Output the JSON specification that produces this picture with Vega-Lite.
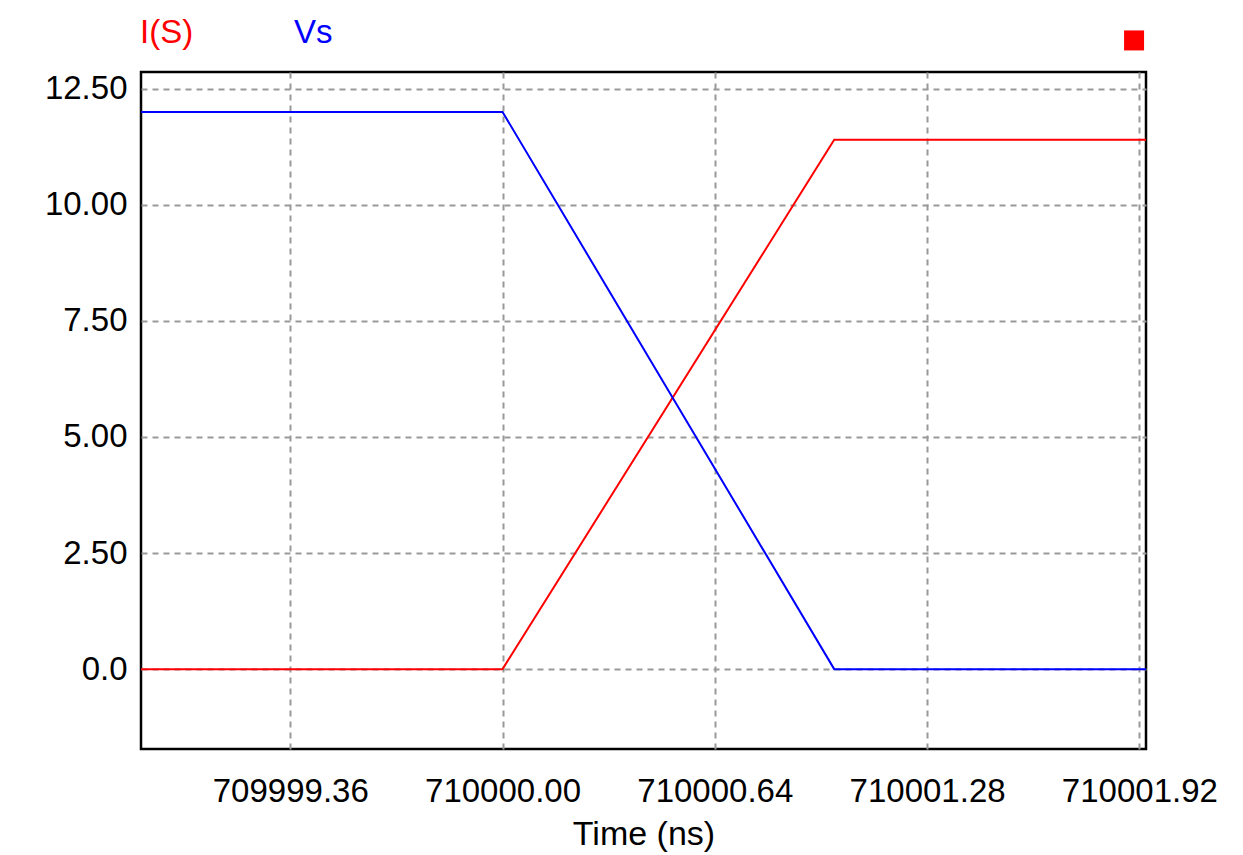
{
  "$schema": "https://vega.github.io/schema/vega-lite/v6.json",
  "width": 1005,
  "height": 677,
  "autosize": "none",
  "padding": {"left": 141, "top": 72, "right": 97, "bottom": 106},
  "background": "#ffffff",
  "config": {
    "view": {"stroke": "#000000", "strokeWidth": 2.5},
    "font": "Liberation Sans",
    "axis": {
      "domain": false,
      "ticks": false,
      "grid": true,
      "gridColor": "#999999",
      "gridWidth": 2,
      "gridDash": [6, 5],
      "gridOpacity": 1,
      "labelColor": "#000000",
      "labelFontSize": 33,
      "labelFont": "Liberation Sans",
      "titleColor": "#000000",
      "titleFont": "Liberation Sans",
      "titleFontWeight": "normal",
      "titleFontSize": 34
    }
  },
  "layer": [
    {
      "data": {
        "values": [
          {"time": 709998.91, "value": 0, "series": "I(S)"},
          {"time": 710000.0, "value": 0, "series": "I(S)"},
          {"time": 710001.0, "value": 11.4, "series": "I(S)"},
          {"time": 710001.94, "value": 11.4, "series": "I(S)"},
          {"time": 709998.91, "value": 12, "series": "Vs"},
          {"time": 710000.0, "value": 12, "series": "Vs"},
          {"time": 710001.0, "value": 0, "series": "Vs"},
          {"time": 710001.94, "value": 0, "series": "Vs"}
        ]
      },
      "mark": {"type": "line", "strokeWidth": 2, "clip": true},
      "encoding": {
        "x": {
          "field": "time",
          "type": "quantitative",
          "scale": {"domain": [709998.91, 710001.94], "nice": false, "zero": false},
          "axis": {
            "values": [709999.36, 710000.0, 710000.64, 710001.28, 710001.92],
            "format": ".2f",
            "labelPadding": 26,
            "title": "Time (ns)",
            "titlePadding": 9
          }
        },
        "y": {
          "field": "value",
          "type": "quantitative",
          "scale": {"domain": [-1.72, 12.86], "nice": false, "zero": false},
          "axis": {
            "values": [0, 2.5, 5, 7.5, 10, 12.5],
            "labelExpr": "datum.value == 0 ? '0.0' : format(datum.value, '.2f')",
            "labelPadding": 14,
            "title": null
          }
        },
        "color": {
          "field": "series",
          "type": "nominal",
          "scale": {"domain": ["I(S)", "Vs"], "range": ["#ff0000", "#0000ff"]},
          "legend": {
            "orient": "none",
            "legendX": -34,
            "legendY": -56,
            "direction": "horizontal",
            "title": null,
            "symbolSize": 0,
            "symbolOpacity": 0,
            "symbolStrokeWidth": 0,
            "labelOffset": 0,
            "labelFontSize": 33,
            "labelFont": "Liberation Sans",
            "columnPadding": 67,
            "labelColor": {"expr": "datum.value == 'I(S)' ? '#ff0000' : '#0000ff'"}
          }
        }
      }
    },
    {
      "data": {"values": [{"time": 710001.904, "value": 13.54}]},
      "mark": {"type": "square", "size": 400, "color": "#ff0000", "opacity": 1, "filled": true, "clip": false},
      "encoding": {
        "x": {"field": "time", "type": "quantitative", "scale": {"domain": [709998.91, 710001.94], "nice": false, "zero": false}},
        "y": {"field": "value", "type": "quantitative", "scale": {"domain": [-1.72, 12.86], "nice": false, "zero": false}}
      }
    }
  ]
}
